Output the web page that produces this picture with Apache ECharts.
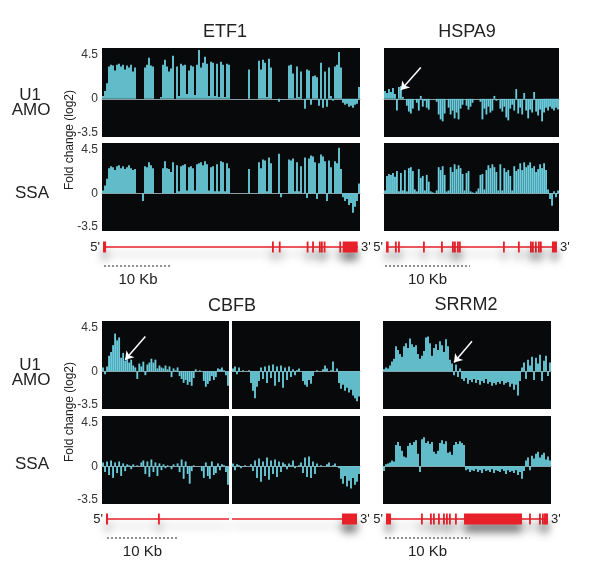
<!DOCTYPE html>
<html>
<head>
<meta charset="utf-8">
<script src="https://cdn.jsdelivr.net/npm/echarts@6/dist/echarts.min.js"></script>
<style>
  html, body { margin: 0; padding: 0; background: #fff; }
  #chart { width: 601px; height: 576px; }
</style>
</head>
<body>
<div id="chart"></div>
<script>
// fold change (log2) per 2px bin
const etf1Amo = [
  0.3, 0.8, 1.6, 3.3, 3.5, 3.4, 2.9, 3.5, 3.6, 3.3, 3.5, 3.0, 3.4, 3.2, 3.5, 2.8, 3.2,
  0, 0, 0, 0,
  3.2, 3.5, 4.2, 3.4, 3.3,
  0, 0, 0, 0.2,
  3.5, 4.0, 3.3, 2.8, 3.1, 4.4,
  0, 3.3, 0.3, 3.6, 3.4, 3.5,
  0.5, 2.9, 3.4, 3.3, 0.4, 3.5,
  5.0, 3.2, 3.7, 4.3, 3.6, 0.3,
  3.8, 3.7, 0.3, 3.6, 0.2, 3.8,
  3.5, 0.2, 3.6, 3.5,
  0, 0, 0, 0, 0, 0, 0, 0, 0,
  3.0,
  0, 0, 0, 0,
  3.9, 3.0, 4.0, 3.7, 0.2, 4.1, 3.2,
  0, 0, 0, -0.3, 0, 0, 0, 0,
  3.4, 3.5, 2.6, 0.1, 3.3, 0.2, 2.8,
  0, -1.0, 3.0, 2.9, -0.6, 2.3, 2.4, 2.2,
  -0.7, 3.7, -0.9, 2.8, -0.8, 3.2, 0.3, -0.2,
  3.3, 3.5, 4.8, 3.2,
  -0.4, -0.6, -0.5, -0.8, -0.7, -0.9, -0.6, -0.5, 1.2
];
const etf1Ssa = [
  0.3, 0.8, 1.5, 2.6, 2.8, 2.7, 2.4, 2.8, 2.9, 2.6, 2.8, 2.5, 2.7, 2.9, 2.6, 2.4, 2.5,
  0, 0, 0, -0.8,
  2.8, 2.7, 3.2, 2.9, 2.6,
  0, 0, 0, 0,
  2.6, 3.3, 2.6, 2.5, 2.2, 3.2,
  0, 2.9, 0.2, 2.8, 2.9, 3.0,
  0.3, 2.7, 2.8, 2.6, 0.3, 3.0,
  3.1, 3.2, 2.9, 3.3, 3.0, 0.3,
  2.7, 2.8, 0.2, 3.0, 0.2, 3.3,
  3.2, 0.2, 3.1, 2.6,
  0, 0, 0, 0, 0, 0, 0, 0, 0,
  2.5,
  0, 0, 0, 0,
  3.2, 2.6, 3.5, 3.4, 0.2, 3.7, 3.1,
  0, 0, 0, 4.1, -0.4, 0, 0, 0,
  3.5, 3.4, 3.6, 0.2, 3.2, 0.2, 2.8,
  0, 3.7, -0.5, 3.6, 3.9, 3.8, 3.2, -0.6,
  3.1, 4.0, 3.8, 3.3, -0.8, 3.4, 2.7, 0,
  3.3, 3.1, 4.7, 2.5,
  -0.4, -0.8, -0.6, -1.2, -1.0, -2.0, -1.4, -0.8, 1.0
];
const hspa9Amo = [
  0.8, 0.6, 1.0, 0.7, 1.1, 0.5, -1.2, 1.2, 1.3, 0.2,
  0, -0.7, -1.3, -1.5, -1.0, 0, -0.4, -1.2, 0.3, -0.8,
  -0.2, -0.9, -1.1, 0, 0, 0, -0.3, -1.6, -2.1, -2.3,
  -1.5, 0, -0.9, -1.6, -1.2, -2.0, -1.4, -2.1, -1.0, -0.6,
  0, -0.7, -1.1, -0.8, -0.4, 0, 0, 0, -0.3, -2.1,
  -1.0, -1.6, -0.8, -1.4, -1.2, 0.3, -0.2, 0, -1.0, -1.3,
  -0.8, -1.9, -2.2, -1.0, -0.6, -1.2, 1.0, -1.5, -0.9, -1.6,
  0.6, -1.2, -2.0, -1.1, -1.4, 0.7, -1.3, -1.7, -1.1, -2.3,
  -1.4, -0.9, -1.2, -0.8, -1.0, -1.2, -0.9, -1.1
];
const hspa9Ssa = [
  0.3, 1.8, 2.0, 1.9, 2.1, 1.7, 2.3, 0.2, 2.1, 0.3,
  2.4, 0.2, 2.6, 2.7, 2.3, 0.4, 0.2, 2.5, 1.6, 1.8,
  0.3, 1.9, 1.2, 0.2, 0.1, 0, 0.3, 2.7, 2.4, 2.8,
  1.9, 0.2, 0.3, 2.7, 2.2, 3.0, 2.5, 2.9, 2.6, 2.0,
  0.3, 2.1, 2.3, 0.2, 0.1, 0, 0.2, 0.5, 1.9, 2.0,
  0.4, 2.4, 2.9, 2.6, 3.0, 2.7, 2.2, 0.3, 3.0, 0.3,
  2.6, 2.2, 2.4, 1.8, 0.3, 2.8, 2.3, 2.5, 3.1, 2.4,
  3.2, 2.7, 2.9, 3.2, 2.6, 2.8, 2.2, 2.5, 3.0, 2.6,
  3.1, 2.4, 0.4, -0.6, -1.3, 0.2, -0.4, 0.3
];
const cbfbAmoLeft = [
  0.4, -0.3, 0.5, 1.6, 2.0, 2.7, 3.9, 3.2, 3.5, 1.4,
  1.9, 1.1, 1.3, 0.9, 1.2, 0.6, 0.4, -0.8, 0.8, 0.5,
  1.0, -0.4, 0.7, 0.9, 1.3, 0.9, 1.2, 0.3, 0.6, 0.4,
  0.3, 0.6, 0.2, 0.5, -0.6, 0.3, 0.1, 0.4, -0.5, -0.8,
  -1.2, -0.9, -1.4, -1.1, -1.5, -0.7, 0.2, 0, 0.1, 0,
  -1.0, -1.6, -1.3, -1.0, -0.5, -0.9, -0.6, 0.3, 0.2, 0.4,
  0.1, -0.4, -1.5
];
const cbfbAmoRight = [
  0.3, 0.5, -0.3, 0.4, 0, 0.1, 0, 0, 0.1, -1.2,
  -2.0, -2.8, -1.6, -1.0, 0.4, -0.8, 0.5, -1.2, 0.6, -0.7,
  0.7, -1.5, 0.5, -1.1, 0.6, -1.7, 0.4, -0.9, 0.5, -0.6,
  0.2, -0.4, 0.1, 0.3, 0, -1.0, -1.4, -1.6, -0.9, -1.3,
  -0.5, 0, 0.1, 0, 0, 0.2, 0.6, 0.3, 0, 0.1,
  1.0, 0, 0.3, -1.2, -1.8, -1.4, -2.0, -1.7, -2.2, -1.9,
  -2.5, -2.8, -3.1, -2.6
];
const cbfbSsaLeft = [
  0.4, -0.6, 0.5, -0.9, 0.6, -1.2, 0.4, -0.7, 0.5, -1.0,
  0.3, -0.5, 0.2, 0.1, -0.3, 0.2, 0, 0.1, 0, 0.4,
  0.6, -0.8, 0.5, -1.1, 0.7, -0.6, 0.4, -1.0, 0.3, -0.4,
  0.2, -0.2, 0.1, 0, -0.3, 0.2, 0, 0.3, -0.6, 0.7,
  -1.3, 0.5, -0.8, -1.8, -0.5, 0.1, 0, 0, 0, -0.5,
  -1.2, 0.4, -1.0, -1.3, 0.5, -0.9, -0.7, 0.3, -0.4, 0.2,
  0.1, -0.6, -1.9
];
const cbfbSsaRight = [
  0.3, -0.4, 0.2, 0.1, -0.2, 0, 0.1, 0, 0, 0.2,
  -0.5, 0.6, -1.2, 0.8, -1.6, 0.5, -1.0, 0.9, -1.4, 0.6,
  -0.8, 0.7, -1.1, 0.5, -0.6, 0.4, 0.2, -0.3, 0.3, 0.1,
  0.6, -0.2, 0, 0.1, 0.4, -0.7, 0.9, -1.1, 1.0, -1.2,
  0.5, -0.8, 0.3, 0, 0.1, 0, 0, 0.2, 0.4, 0,
  0.1, 0.3, 0, -0.2, -1.3, -1.8, -1.0, -2.1, -1.5, -2.3,
  -1.2, -1.9, -1.6, -0.8
];
const srrm2Amo = [
  0.2, 0.4, 0.3, 0.6, 1.0, 1.3, 2.6, 2.2, 1.8, 1.5,
  2.6, 2.9, 2.4, 3.4, 2.8, 2.5, 2.7, 1.8, 1.3, 1.6,
  2.1, 3.5, 3.6, 2.9, 1.6, 2.4, 2.8, 2.2, 3.1, 2.7,
  2.0, 3.3, 2.6, 1.2, 0.8, -0.4, 0.7, -0.6, 0.3, -0.8,
  -1.0, -0.7, -1.3, -0.9, -1.1, -0.8, -1.2, -0.9, -1.4, -1.0,
  -1.2, -0.8, -1.3, -1.1, -1.5, -1.2, -1.4, -1.1, -1.3, -1.0,
  -1.4, -1.2, -1.1, -1.6, -1.3, -1.9, -1.4, -2.5, -1.0, 0.4,
  0.9, -0.8, 1.2, 0.6, 1.5, -0.9, 1.4, 0.8, 1.7, -1.0,
  1.1, 1.6, -0.5, 0.9
];
const srrm2Ssa = [
  -0.5, 0.2, 0.3, 0.4, 0.6, 0.5, 2.2, 2.5, 2.1, 1.6,
  1.0, 0.9, 2.1, 2.4, 2.2, 2.5, 2.7, 1.3, -0.6, 2.8,
  3.0, 2.4, 2.6, 2.3, 2.5, 1.5, 1.3, 1.6, 2.4, 2.7,
  2.3, 2.6, 1.4, 1.5, 1.2, 2.2, 2.5, 2.3, 2.6, 2.4,
  2.2, -0.4, -0.3, -0.6, -0.4, -0.5, -0.3, -0.6, -0.4, -0.7,
  -0.3, -0.5, -0.4, -0.6, -0.3, -0.7, -0.4, -0.5, -0.6, -0.3,
  -0.5, -0.8, -0.4, -0.6, -0.5, -0.7, -0.4, -0.9, -0.6, -1.3,
  -0.5, 0.6, 0.9, -0.4, 1.1, 0.8, 1.3, 1.5, 0.9, 1.2,
  1.4, 0.7, 1.0, 0.6
];

// gene models, positions in kb from the left edge of each track
const etf1Introns = [[0.15, 37.65]];
const etf1Exons = [[0.15, 0.6], [25.0, 25.2], [26.0, 26.2], [30.1, 30.3], [30.9, 31.1],
  [31.9, 32.1], [32.2, 32.4], [32.6, 32.8], [34.9, 35.1], [35.4, 37.6]];
const etf1Bar = [0.3, 10.3];

const hspa9Introns = [[0.24, 20.35]];
const hspa9Exons = [[0.24, 0.55], [1.29, 1.49], [1.65, 1.85], [4.59, 4.79], [6.71, 6.91],
  [8.0, 8.2], [8.24, 8.44], [8.59, 8.79], [8.82, 9.02], [14.0, 14.2], [15.76, 15.96],
  [17.18, 17.38], [17.41, 17.61], [17.76, 17.96], [18.12, 18.32], [18.35, 18.55], [19.76, 20.35]];
const hspa9Bar = [0.12, 10.12];

const cbfbIntrons = [[0.56, 17.89], [18.31, 35.92]];
const cbfbExons = [[0.56, 0.85], [7.89, 8.12], [33.8, 35.92]];
const cbfbBar = [0.7, 10.7];

const srrm2Introns = [[0.35, 19.41]];
const srrm2Exons = [[0.35, 0.94], [4.47, 4.67], [5.53, 5.73], [5.88, 6.08], [6.47, 6.67],
  [7.06, 7.26], [7.41, 7.61], [7.76, 7.96], [8.47, 8.67], [9.53, 16.35], [17.18, 17.38],
  [18.35, 18.55], [18.7, 18.9], [18.94, 19.06], [19.06, 19.41]];
const srrm2Bar = [0.24, 10.24];

// white arrows: [tail bin, tail value] -> [head bin, head value]
const hspa9Arrow = [[18, 3.2], [8, 0.9]];
const cbfbArrow = [[21, 3.6], [11, 1.2]];
const srrm2Arrow = [[44, 3.1], [35, 0.9]];

const yLabels = [-3.5, 0, 4.5];

const FONT = "'Liberation Sans', Arial, sans-serif";
const CYAN = '#6accdc';
const RED = '#e8202a';
const BG = '#07090a';

const panels = [
  { data: etf1Amo, left: 102, top: 48, width: 258, height: 89, labels: true },
  { data: etf1Ssa, left: 102, top: 143, width: 258, height: 88, labels: true },
  { data: hspa9Amo, left: 384, top: 48, width: 175, height: 89, arrow: hspa9Arrow },
  { data: hspa9Ssa, left: 384, top: 143, width: 175, height: 88 },
  { data: cbfbAmoLeft, left: 102, top: 321, width: 127, height: 88, labels: true, arrow: cbfbArrow },
  { data: cbfbAmoRight, left: 232, top: 321, width: 128, height: 88 },
  { data: cbfbSsaLeft, left: 102, top: 416, width: 127, height: 88, labels: true },
  { data: cbfbSsaRight, left: 232, top: 416, width: 128, height: 88 },
  { data: srrm2Amo, left: 383, top: 321, width: 168, height: 88, arrow: srrm2Arrow },
  { data: srrm2Ssa, left: 383, top: 416, width: 168, height: 88 }
];

const genes = [
  { introns: etf1Introns, exons: etf1Exons, bar: etf1Bar, left: 102, width: 258, y: 247, span: 37.94 },
  { introns: hspa9Introns, exons: hspa9Exons, bar: hspa9Bar, left: 384, width: 175, y: 247, span: 20.59 },
  { introns: cbfbIntrons, exons: cbfbExons, bar: cbfbBar, left: 102, width: 258, y: 519, span: 36.34 },
  { introns: srrm2Introns, exons: srrm2Exons, bar: srrm2Bar, left: 383, width: 168, y: 519, span: 19.76 }
];

function textEl(text, x, y, align, size) {
  return {
    type: 'text',
    style: {
      text: text, x: x, y: y, fill: '#222', font: (size || 13) + 'px ' + FONT,
      textAlign: align, align: align, textVerticalAlign: 'middle', verticalAlign: 'middle'
    }
  };
}

function renderGene(params, api) {
  const kind = api.value(2);
  const a = api.coord([api.value(0), 0]);
  const b = api.coord([api.value(1), 0]);
  const y = a[1];
  if (kind === 0) {
    const ends = api.value(3);
    const children = [{
      type: 'line',
      shape: { x1: a[0], y1: y, x2: b[0], y2: y },
      style: { stroke: RED, lineWidth: 1.6, shadowBlur: 8, shadowOffsetY: 7, shadowColor: 'rgba(0,0,0,0.3)' }
    }];
    if (ends & 1) children.push(textEl("5'", a[0] - 3, y, 'right'));
    if (ends & 2) children.push(textEl("3'", b[0] + 3, y, 'left'));
    return { type: 'group', children: children };
  }
  if (kind === 1) {
    return {
      type: 'rect',
      shape: { x: a[0], y: y - 5.5, width: Math.max(b[0] - a[0], 1.8), height: 11 },
      style: { fill: RED, shadowBlur: 9, shadowOffsetY: 8, shadowColor: 'rgba(0,0,0,0.5)' }
    };
  }
  return {
    type: 'group',
    children: [
      { type: 'line', shape: { x1: a[0], y1: y + 19, x2: b[0], y2: y + 19 },
        style: { stroke: '#222', lineWidth: 1, lineDash: [2, 2] } },
      textEl('10 Kb', (a[0] + b[0]) / 2, y + 33, 'center', 15)
    ]
  };
}

const grid = [], xAxis = [], yAxis = [], series = [];

panels.forEach(function (p, k) {
  grid.push({ left: p.left, top: p.top, width: p.width, height: p.height,
    show: true, backgroundColor: BG, borderWidth: 0 });
  xAxis.push({
    type: 'category', gridIndex: k, data: p.data.map(function (v, i) { return i; }),
    axisLine: { onZero: true, lineStyle: { color: '#8c9ea2', width: 1 } },
    axisTick: { show: false }, axisLabel: { show: false }, splitLine: { show: false }
  });
  yAxis.push({
    type: 'value', gridIndex: k, min: -3.9, max: 5.2,
    axisLine: { show: false }, axisTick: { show: false }, splitLine: { show: false },
    axisLabel: {
      show: !!p.labels, customValues: yLabels, margin: 4,
      color: '#333', fontSize: 12, fontFamily: FONT
    }
  });
  const s = {
    type: 'bar', xAxisIndex: k, yAxisIndex: k, data: p.data,
    barCategoryGap: '8%', itemStyle: { color: CYAN }, silent: true
  };
  if (p.arrow) {
    s.markLine = {
      silent: true, symbol: ['none', 'arrow'], symbolSize: 8,
      lineStyle: { color: '#fff', width: 1.5, type: 'solid' }, label: { show: false },
      data: [[{ coord: p.arrow[0] }, { coord: p.arrow[1] }]]
    };
  }
  series.push(s);
});

genes.forEach(function (g) {
  const k = grid.length;
  grid.push({ left: g.left, top: g.y - 10, width: g.width, height: 20 });
  xAxis.push({ type: 'value', gridIndex: k, min: 0, max: g.span, show: false });
  yAxis.push({ type: 'value', gridIndex: k, min: -1, max: 1, show: false });
  const data = [];
  g.introns.forEach(function (seg, j) {
    let ends = 0;
    if (j === 0) ends |= 1;
    if (j === g.introns.length - 1) ends |= 2;
    data.push([seg[0], seg[1], 0, ends]);
  });
  g.exons.forEach(function (e) { data.push([e[0], e[1], 1, 0]); });
  data.push([g.bar[0], g.bar[1], 2, 0]);
  series.push({
    type: 'custom', xAxisIndex: k, yAxisIndex: k, renderItem: renderGene,
    data: data, silent: true, clip: false
  });
});

function label(text, x, y, size, rotation) {
  return {
    type: 'text', x: x, y: y, rotation: rotation || 0, silent: true,
    style: { text: text, fill: '#222', font: size + 'px ' + FONT,
      textAlign: 'center', align: 'center', textVerticalAlign: 'middle', verticalAlign: 'middle' }
  };
}

const chart = echarts.init(document.getElementById('chart'));
chart.setOption({
  backgroundColor: '#fff',
  animation: false,
  grid: grid,
  xAxis: xAxis,
  yAxis: yAxis,
  series: series,
  graphic: [
    label('ETF1', 225, 32, 18),
    label('HSPA9', 467, 32, 18),
    label('CBFB', 232, 306, 18),
    label('SRRM2', 466, 305, 18),
    label('U1', 30, 95, 17),
    label('AMO', 31, 110, 17),
    label('SSA', 32, 193, 17),
    label('U1', 30, 365, 17),
    label('AMO', 31, 380, 17),
    label('SSA', 32, 464, 17),
    label('Fold change (log2)', 70, 140, 12, Math.PI / 2),
    label('Fold change (log2)', 70, 412, 12, Math.PI / 2)
  ]
});
</script>
</body>
</html>
